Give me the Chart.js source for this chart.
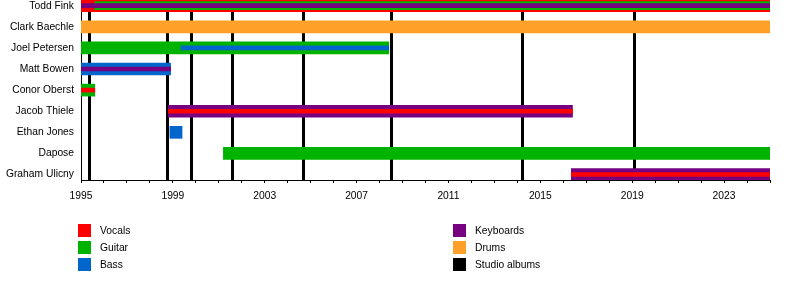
<!DOCTYPE html>
<html>
<head>
<meta charset="utf-8">
<script src="https://cdn.jsdelivr.net/npm/chart.js@4.4.1/dist/chart.umd.min.js"></script>
<style>
  body { margin: 0; background: #fff; font-family: 'Liberation Sans', Arial, sans-serif; }
  .wrap { position: relative; width: 800px; height: 300px; }
  #legend { position: absolute; left: 78px; top: 222px; display: grid;
    grid-template-columns: 375px 200px; grid-auto-flow: column; grid-template-rows: repeat(3, 17px); }
  .item { display: flex; align-items: center; font-size: 10.3px; color: #000; height: 17px; }
  .sw { width: 13px; height: 13px; margin-right: 9px; }
</style>
</head>
<body>
<div class="wrap">
  <canvas id="timeline"></canvas>
  <div id="legend"></div>
</div>
<script>
const members = ["Todd Fink", "Clark Baechle", "Joel Petersen", "Matt Bowen", "Conor Oberst",
  "Jacob Thiele", "Ethan Jones", "Dapose", "Graham Ulicny"];

// [member, start, end]
const vocals = [["Todd Fink", 1995, 2025]];
const guitar = [["Joel Petersen", 1995, 2008.4], ["Conor Oberst", 1995, 1995.6], ["Dapose", 2001.2, 2025]];
const bass = [["Matt Bowen", 1995, 1998.9], ["Ethan Jones", 1998.87, 1999.4]];
const keyboards = [["Jacob Thiele", 1998.8, 2016.4], ["Graham Ulicny", 2016.35, 2025]];
const drums = [["Clark Baechle", 1995, 2025]];
// secondary roles
const guitar2 = [["Todd Fink", 1995.6, 2025]];
const vocals2 = [["Conor Oberst", 1995, 1995.6], ["Jacob Thiele", 1998.8, 2016.4], ["Graham Ulicny", 2016.35, 2025]];
const bass2 = [["Joel Petersen", 1999.35, 2008.4]];
const keyboards2 = [["Todd Fink", 1995, 2025], ["Matt Bowen", 1995, 1998.9]];

const albums = [1995.36, 1998.74, 1999.8, 2001.57, 2004.67, 2008.5, 2014.2, 2019.1];

const legendNames = ["Vocals", "Guitar", "Bass", "Keyboards", "Drums", "Studio albums"];
const colors = {
  Vocals: "#ff0000", Guitar: "#00b300", Bass: "#0066cc",
  Keyboards: "#760080", Drums: "#ffa028", "Studio albums": "#000000"
};

function pts(list) {
  return list.map(p => ({ x: [p[1], p[2]], y: members.indexOf(p[0]) }));
}
function ds(label, list, thick, order) {
  return { label: label, data: pts(list), backgroundColor: colors[label],
    barThickness: thick, grouped: false, order: order, borderWidth: 0 };
}

const albumLines = {
  id: "albumLines",
  beforeDatasetsDraw(chart) {
    const c = chart.ctx, a = chart.chartArea, xs = chart.scales.x;
    c.save();
    c.strokeStyle = "#000";
    c.lineWidth = 3;
    albums.forEach(v => {
      const x = Math.round(xs.getPixelForValue(v)) + 0.5;
      c.beginPath();
      c.moveTo(x, a.top);
      c.lineTo(x, a.bottom);
      c.stroke();
    });
    c.restore();
  }
};

const font = { family: "'Liberation Sans', Arial", size: 10.3 };

new Chart(document.getElementById("timeline"), {
  type: "bar",
  data: {
    datasets: [
      ds("Vocals", vocals, 12, 3),
      ds("Guitar", guitar, 12, 3),
      ds("Bass", bass, 12, 3),
      ds("Keyboards", keyboards, 12, 3),
      ds("Drums", drums, 12, 3),
      ds("Guitar", guitar2, 8, 2),
      ds("Vocals", vocals2, 4, 1),
      ds("Bass", bass2, 4, 1),
      ds("Keyboards", keyboards2, 4, 1)
    ]
  },
  options: {
    indexAxis: "y",
    responsive: true,
    maintainAspectRatio: false,
    animation: false,
    layout: { padding: { right: 30, top: 0, left: 0, bottom: 0 } },
    plugins: { legend: { display: false }, tooltip: { enabled: false } },
    scales: {
      x: {
        type: "linear",
        min: 1995,
        max: 2025,
        afterFit: s => { s.height = 120; s.paddingLeft = 0; s.paddingRight = 0; },
        border: { color: "#000", width: 1 },
        grid: { drawOnChartArea: false, color: "#000", tickLength: 3 },
        ticks: {
          stepSize: 1, autoSkip: false, maxRotation: 0, color: "#000", padding: 7,
          font: font,
          callback: v => ((v - 1995) % 4 === 0 ? String(v) : "")
        }
      },
      y: {
        type: "linear",
        reverse: true,
        offset: false,
        min: -0.27,
        max: 8.26,
        afterFit: s => { s.width = 81; s.paddingTop = 0; s.paddingBottom = 0; },
        border: { color: "#000", width: 1 },
        grid: { drawOnChartArea: false, drawTicks: false, offset: false },
        ticks: {
          stepSize: 1, includeBounds: false, autoSkip: false, color: "#000", padding: 7,
          font: font,
          callback: v => (Number.isInteger(v) ? members[v] : "")
        }
      }
    }
  },
  plugins: [albumLines]
});

const legend = document.getElementById("legend");
legendNames.forEach(n => {
  const d = document.createElement("div");
  d.className = "item";
  d.innerHTML = '<span class="sw" style="background:' + colors[n] + '"></span>' + n;
  legend.appendChild(d);
});
</script>
</body>
</html>
